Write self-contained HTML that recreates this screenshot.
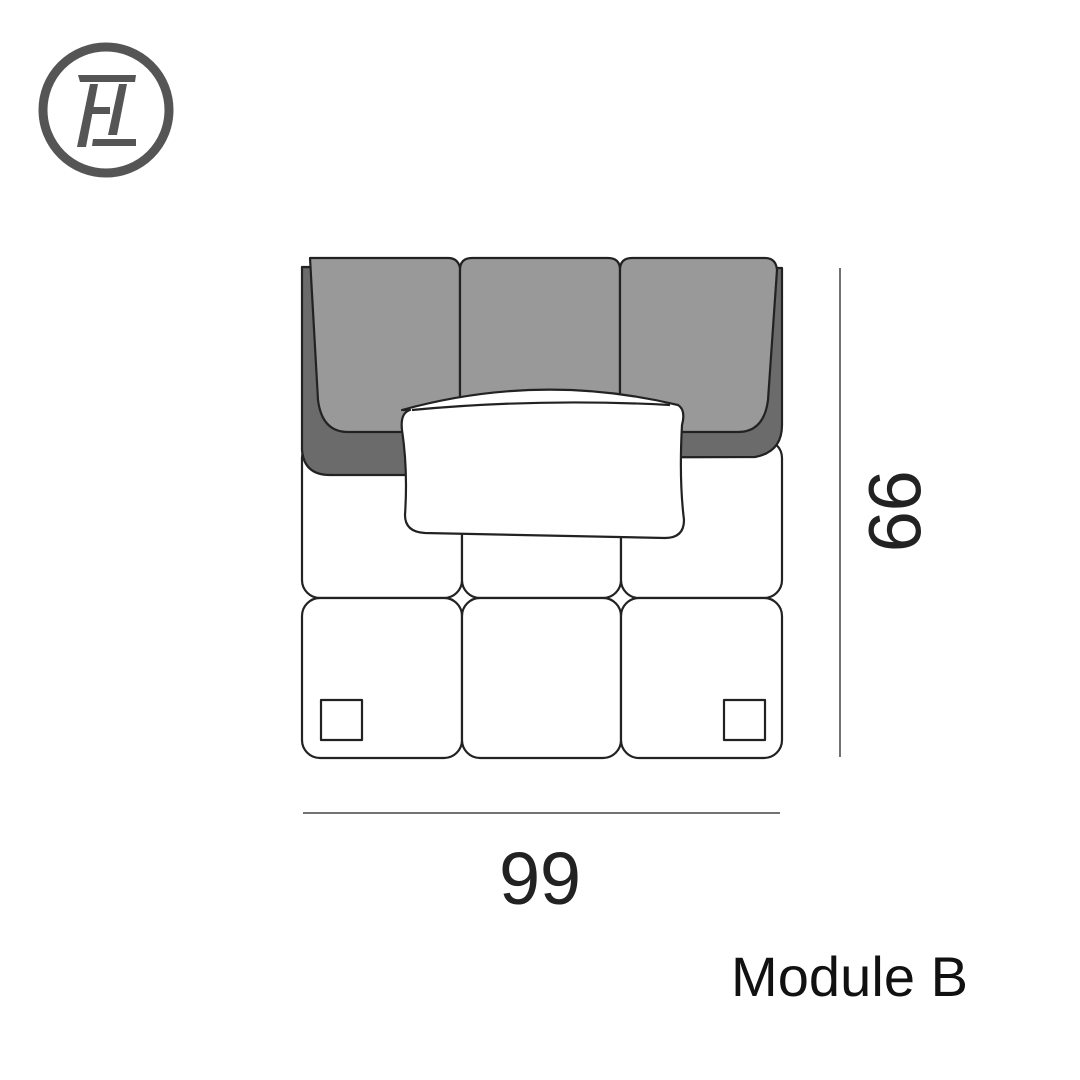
<!DOCTYPE html>
<html><head><style>body{margin:0;background:#fff}svg{display:block}</style></head><body>
<svg width="1080" height="1080" viewBox="0 0 1080 1080" xmlns="http://www.w3.org/2000/svg">
<rect width="1080" height="1080" fill="#fff"/>
<circle cx="106" cy="110" r="63" fill="none" stroke="#555" stroke-width="9"/>
<g fill="#555">
<polygon points="78,75 136,75 135,82 80,82"/>
<polygon points="90,84 98,84 86,147 77,147"/>
<polygon points="93,107 110,107 110,114 91,114"/>
<polygon points="119,84 127,84 117,135 108,135"/>
<polygon points="93,139 136,139 136,146 92,146"/>
</g>
<g stroke="#222" stroke-width="2.2" stroke-linejoin="round">
<g fill="#fff">
<rect x="302" y="440" width="160" height="158" rx="18"/>
<rect x="462" y="440" width="159" height="158" rx="18"/>
<rect x="621" y="440" width="161" height="158" rx="18"/>
<rect x="302" y="598" width="160" height="160" rx="18"/>
<rect x="462" y="598" width="159" height="160" rx="18"/>
<rect x="621" y="598" width="161" height="160" rx="18"/>
<rect x="321" y="700" width="41" height="40"/>
<rect x="724" y="700" width="41" height="40"/>
</g>
<path d="M302,267 L302,450 Q304,475 330,475 L460,475 L460,458 L755,457 Q782,452 782,425 L782,268 Z" fill="#6b6b6b"/>
<path d="M310,258 L448,258 Q458,258 460,268 L460,432 L348,432 Q322,432 318,400 Z" fill="#999"/>
<path d="M472,258 L608,258 Q620,258 620,270 L620,432 L460,432 L460,270 Q460,258 472,258 Z" fill="#999"/>
<path d="M632,258 L765,258 Q776,258 777,270 L768,400 Q764,432 738,432 L620,432 L620,270 Q620,258 632,258 Z" fill="#999"/>
<path d="M402,410 Q540,372 678,405 Q686,410 682,425 Q679,480 684,520 Q684,538 665,538 L425,533 Q405,532 405,515 Q408,470 402,430 Q400,413 410,410 Z" fill="#fff"/>
<path d="M412,410 Q540,398 670,405" fill="none"/>
</g>
<line x1="840" y1="268" x2="840" y2="757" stroke="#444" stroke-width="1.5"/>
<line x1="303" y1="813" x2="780" y2="813" stroke="#444" stroke-width="1.5"/>
<text x="540" y="904" font-family="Liberation Sans, sans-serif" font-size="74" text-anchor="middle" fill="#222" textLength="82">99</text>
<text transform="translate(869,511) rotate(90)" font-family="Liberation Sans, sans-serif" font-size="74" text-anchor="middle" fill="#222" textLength="82">99</text>
<text x="731" y="996" font-family="Liberation Sans, sans-serif" font-size="56" fill="#111" textLength="237">Module B</text>
</svg>
</body></html>
